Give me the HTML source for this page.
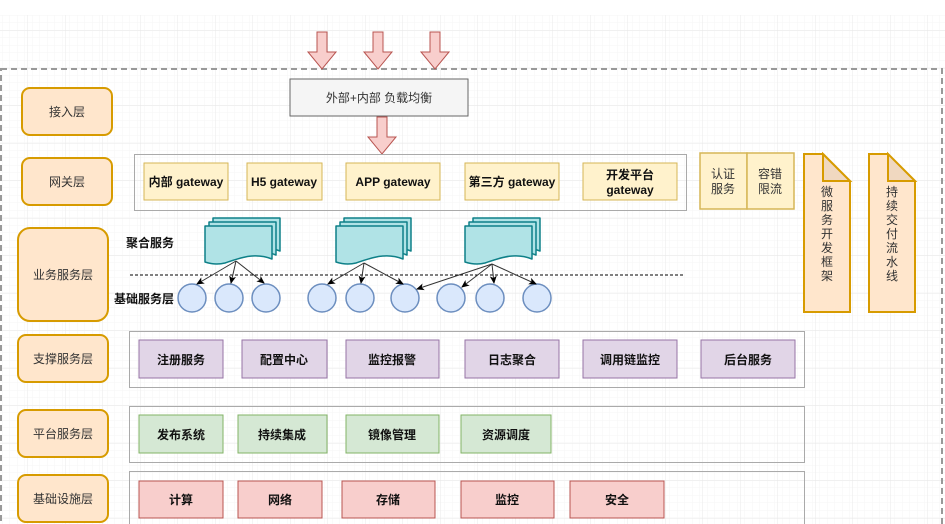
<!DOCTYPE html>
<html><head><meta charset="utf-8"><style>
html,body{margin:0;padding:0;background:#fff;}
svg{display:block;font-family:"Liberation Sans","Noto Sans CJK SC",sans-serif;}
</style></head><body>
<svg width="945" height="524" viewBox="0 0 945 524" xmlns="http://www.w3.org/2000/svg">
<defs>
<pattern id="minor" x="2.5" y="0.5" width="7.5" height="7.5" patternUnits="userSpaceOnUse"><path d="M7.5 0V7.5M0 7.5H7.5" fill="none" stroke="#f6f6f6" stroke-width="1"/></pattern>
<pattern id="major" x="27.5" y="30.5" width="37.5" height="37.5" patternUnits="userSpaceOnUse"><path d="M0 0V37.5M0 0H37.5" fill="none" stroke="#e9e9e9" stroke-width="1"/></pattern>
<marker id="ah" markerWidth="8" markerHeight="8" refX="7" refY="4" orient="auto" markerUnits="userSpaceOnUse"><path d="M0,0.5 L8,4 L0,7.5 L2,4 Z" fill="#000"/></marker>
<g id="bigarrow"><path d="M-5,0 H5 V20 H14 L0,37 L-14,20 H-5 Z" fill="#f8cecc" stroke="#b85450" stroke-width="1"/></g>
<g id="doc"><path d="M0,0 H67 V33 C50,26 35,32 20,37 C12,39 6,38 0,36 Z" fill="#b0e3e6" stroke="#0e8088" stroke-width="1.5" stroke-linejoin="round"/></g>
</defs>
<rect x="0" y="15" width="945" height="509" fill="url(#minor)"/>
<rect x="0" y="15" width="945" height="509" fill="url(#major)"/>
<rect x="1" y="69" width="941" height="470" fill="none" stroke="#999" stroke-width="2" stroke-dasharray="6,4"/>

<g font-size="12" fill="#333" text-anchor="middle">
<g fill="#ffe6cc" stroke="#d79b00" stroke-width="2">
<rect x="22" y="88" width="90" height="47" rx="8"/>
<rect x="22" y="158" width="90" height="47" rx="8"/>
<rect x="18" y="228" width="90" height="93" rx="12"/>
<rect x="18" y="335" width="90" height="47" rx="8"/>
<rect x="18" y="410" width="90" height="47" rx="8"/>
<rect x="18" y="475" width="90" height="47" rx="8"/>
</g>
<text x="67" y="116">接入层</text>
<text x="67" y="186">网关层</text>
<text x="63" y="279">业务服务层</text>
<text x="63" y="363">支撑服务层</text>
<text x="63" y="438">平台服务层</text>
<text x="63" y="503">基础设施层</text>
</g>

<use href="#bigarrow" x="322" y="32"/>
<use href="#bigarrow" x="378" y="32"/>
<use href="#bigarrow" x="435" y="32"/>
<rect x="290" y="79" width="178" height="37" fill="#f5f5f5" stroke="#666"/>
<text x="379" y="102" font-size="12" fill="#333" text-anchor="middle">外部+内部 负载均衡</text>
<use href="#bigarrow" x="382" y="117"/>

<rect x="134.5" y="154.5" width="552" height="56" fill="none" stroke="#aaa"/>
<g fill="#fff2cc" stroke="#d6b656">
<rect x="144" y="163" width="84" height="37"/>
<rect x="247" y="163" width="75" height="37"/>
<rect x="346" y="163" width="94" height="37"/>
<rect x="465" y="163" width="94" height="37"/>
<rect x="583" y="163" width="94" height="37"/>
<rect x="700" y="153" width="47" height="56" stroke-width="1.5"/>
<rect x="747" y="153" width="47" height="56" stroke-width="1.5"/>
</g>
<g font-size="12" font-weight="bold" fill="#111" text-anchor="middle">
<text x="186" y="186">内部 gateway</text>
<text x="284" y="186">H5 gateway</text>
<text x="393" y="186">APP gateway</text>
<text x="512" y="186">第三方 gateway</text>
<text x="630" y="179">开发平台</text>
<text x="630" y="194">gateway</text>
</g>
<g font-size="12" fill="#333" text-anchor="middle">
<text x="723" y="178">认证</text><text x="723" y="193">服务</text>
<text x="770" y="178">容错</text><text x="770" y="193">限流</text>
</g>
<g fill="#ffe6cc" stroke="#d79b00" stroke-width="2">
<path d="M804,154 H823 L850,181 V312 H804 Z"/>
<path d="M869,154 H888 L915,181 V312 H869 Z"/>
</g>
<g fill="#f0d8c0" stroke="#d79b00" stroke-width="2"><path d="M823,154 L850,181 H823 Z"/><path d="M888,154 L915,181 H888 Z"/></g>
<g font-size="12" fill="#333" text-anchor="middle">
<text x="827" y="196">微</text><text x="827" y="210">服</text><text x="827" y="224">务</text><text x="827" y="238">开</text><text x="827" y="252">发</text><text x="827" y="266">框</text><text x="827" y="280">架</text>
<text x="892" y="196">持</text><text x="892" y="210">续</text><text x="892" y="224">交</text><text x="892" y="238">付</text><text x="892" y="252">流</text><text x="892" y="266">水</text><text x="892" y="280">线</text>
</g>

<text x="150" y="247" font-size="12" font-weight="bold" fill="#111" text-anchor="middle">聚合服务</text>
<text x="144" y="303" font-size="12" font-weight="bold" fill="#111" text-anchor="middle">基础服务层</text>
<line x1="130" y1="275" x2="683" y2="275" stroke="#000" stroke-dasharray="3,2"/>

<g>
<use href="#doc" x="213" y="218"/><use href="#doc" x="209" y="222"/><use href="#doc" x="205" y="226"/>
<use href="#doc" x="344" y="218"/><use href="#doc" x="340" y="222"/><use href="#doc" x="336" y="226"/>
<use href="#doc" x="473" y="218"/><use href="#doc" x="469" y="222"/><use href="#doc" x="465" y="226"/>
</g>
<g fill="#dae8fc" stroke="#6c8ebf" stroke-width="1.5">
<circle cx="192" cy="298" r="14"/><circle cx="229" cy="298" r="14"/><circle cx="266" cy="298" r="14"/>
<circle cx="322" cy="298" r="14"/><circle cx="360" cy="298" r="14"/><circle cx="405" cy="298" r="14"/>
<circle cx="451" cy="298" r="14"/><circle cx="490" cy="298" r="14"/><circle cx="537" cy="298" r="14"/>
</g>
<g stroke="#333" stroke-width="1" marker-end="url(#ah)">
<line x1="236" y1="261" x2="197" y2="284"/><line x1="236" y1="261" x2="231" y2="283"/><line x1="236" y1="261" x2="264" y2="283"/>
<line x1="364" y1="263" x2="328" y2="284"/><line x1="364" y1="263" x2="361" y2="283"/><line x1="364" y1="263" x2="403" y2="284"/>
<line x1="492" y1="264" x2="417" y2="289"/><line x1="492" y1="264" x2="462" y2="287"/><line x1="492" y1="264" x2="494" y2="283"/><line x1="492" y1="264" x2="536" y2="284"/>
</g>

<rect x="129.5" y="331.5" width="675" height="56" fill="none" stroke="#aaa"/>
<rect x="129.5" y="406.5" width="675" height="56" fill="none" stroke="#aaa"/>
<rect x="129.5" y="471.5" width="675" height="60" fill="none" stroke="#aaa"/>
<g fill="#e1d5e7" stroke="#9673a6">
<rect x="139" y="340" width="84" height="38"/><rect x="242" y="340" width="85" height="38"/><rect x="346" y="340" width="93" height="38"/>
<rect x="465" y="340" width="94" height="38"/><rect x="583" y="340" width="94" height="38"/><rect x="701" y="340" width="94" height="38"/>
</g>
<g fill="#d5e8d4" stroke="#82b366">
<rect x="139" y="415" width="84" height="38"/><rect x="238" y="415" width="89" height="38"/><rect x="346" y="415" width="93" height="38"/><rect x="461" y="415" width="90" height="38"/>
</g>
<g fill="#f8cecc" stroke="#b85450">
<rect x="139" y="481" width="84" height="37"/><rect x="238" y="481" width="84" height="37"/><rect x="342" y="481" width="93" height="37"/><rect x="461" y="481" width="93" height="37"/><rect x="570" y="481" width="94" height="37"/>
</g>
<g font-size="12" font-weight="bold" fill="#111" text-anchor="middle">
<text x="181" y="364">注册服务</text><text x="284" y="364">配置中心</text><text x="392" y="364">监控报警</text>
<text x="512" y="364">日志聚合</text><text x="630" y="364">调用链监控</text><text x="748" y="364">后台服务</text>
<text x="181" y="439">发布系统</text><text x="282" y="439">持续集成</text><text x="392" y="439">镜像管理</text><text x="506" y="439">资源调度</text>
<text x="181" y="504">计算</text><text x="280" y="504">网络</text><text x="388" y="504">存储</text><text x="507" y="504">监控</text><text x="617" y="504">安全</text>
</g>
</svg>
</body></html>
